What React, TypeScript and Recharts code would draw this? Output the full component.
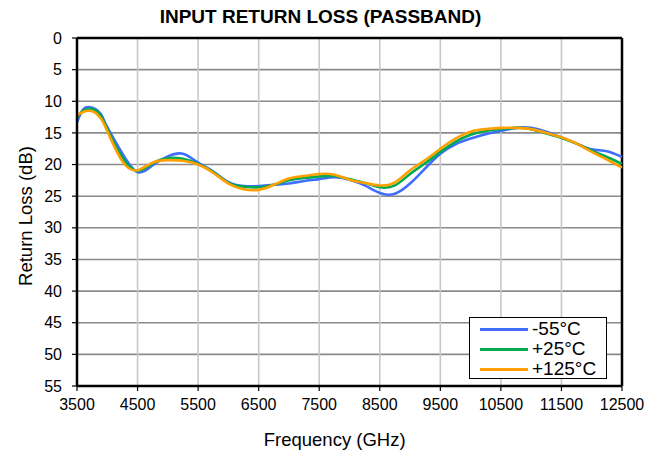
import React from 'react';
import { LineChart, Line, XAxis, YAxis, CartesianGrid, Legend, ReferenceLine } from 'recharts';

const freqs = [3500, 3600, 3700, 3800, 3900, 4000, 4250, 4500, 4750, 5000, 5250, 5500, 5750, 6000, 6250, 6500, 6750, 7000, 7250, 7500, 7750, 8000, 8250, 8500, 8750, 9000, 9250, 9500, 9750, 10000, 10250, 10500, 10750, 11000, 11250, 11500, 11750, 12000, 12250, 12500];

const m55 = [13.3, 11.3, 10.9, 11.2, 12.1, 14.1, 18.3, 21.2, 20.1, 18.7, 18.3, 19.7, 21.1, 22.8, 23.4, 23.4, 23.2, 23.0, 22.6, 22.3, 22.0, 22.4, 23.3, 24.5, 24.6, 23.0, 20.6, 18.3, 16.8, 15.9, 15.2, 14.7, 14.2, 14.2, 14.8, 15.7, 16.7, 17.6, 17.9, 18.8];
const p25 = [12.6, 11.5, 11.2, 11.4, 12.4, 14.4, 18.9, 21.0, 19.8, 19.0, 19.1, 19.9, 21.2, 22.9, 23.5, 23.6, 23.2, 22.5, 22.1, 21.9, 21.8, 22.3, 22.9, 23.6, 23.3, 21.5, 19.8, 18.0, 16.4, 15.3, 14.7, 14.4, 14.2, 14.4, 15.1, 15.8, 16.7, 17.8, 18.8, 19.9];
const p125 = [12.2, 11.7, 11.5, 11.8, 12.8, 14.7, 19.5, 20.9, 19.7, 19.3, 19.4, 20.0, 21.3, 23.0, 23.9, 24.0, 23.2, 22.2, 21.8, 21.5, 21.6, 22.4, 22.9, 23.3, 22.8, 20.9, 19.3, 17.5, 15.9, 14.8, 14.4, 14.2, 14.2, 14.4, 15.0, 15.7, 16.7, 18.0, 19.2, 20.5];

const seriesNames = ['-55°C', '+25°C', '+125°C'];
const seriesColors = ['#3F6DFF', '#00AA4F', '#FFA000'];
const seriesKeys = ['m55', 'p25', 'p125'];

const xTicks = [3500, 4500, 5500, 6500, 7500, 8500, 9500, 10500, 11500, 12500];
const yTicks = [0, 5, 10, 15, 20, 25, 30, 35, 40, 45, 50, 55];

const title = 'INPUT RETURN LOSS (PASSBAND)';
const xTitle = 'Frequency (GHz)';
const yTitle = 'Return Loss (dB)';

const data = freqs.map((f, i) => ({ f, m55: m55[i], p25: p25[i], p125: p125[i] }));

const FONT = '"Liberation Sans", Arial, sans-serif';

const renderLegend = (props: any) => {
  const payload = [...(props.payload || [])].sort(
    (a: any, b: any) => seriesNames.indexOf(a.value) - seriesNames.indexOf(b.value)
  );
  return (
    <div style={{ border: '1.5px solid #000', background: '#fff', width: 136, height: 59, boxSizing: 'content-box', fontFamily: FONT, fontSize: 19, color: '#000', paddingTop: 1 }}>
      {payload.map((e: any, i: number) => (
        <div key={i} style={{ display: 'flex', alignItems: 'center', height: 20, lineHeight: '20px' }}>
          <span style={{ display: 'inline-block', width: 48, height: 3, background: e.color, marginLeft: 10, marginRight: 4 }} />
          <span>{e.value}</span>
        </div>
      ))}
    </div>
  );
};

export default function App() {
  return (
    <div style={{ position: 'absolute', left: 0, top: 0, width: 660, height: 452, background: '#fff' }}>
      <LineChart width={660} height={452} data={data} margin={{ top: 38, right: 38, bottom: 36, left: 27 }}>
        <CartesianGrid horizontal={true} vertical={false} stroke="#8a8a8a" strokeWidth={1.6} />
        <CartesianGrid horizontal={false} vertical={true} stroke="#c8c8c8" strokeWidth={1.6} />
        <XAxis
          dataKey="f"
          type="number"
          domain={[3500, 12500]}
          ticks={xTicks}
          interval={0}
          height={30}
          axisLine={{ stroke: '#000', strokeWidth: 2.5 }}
          tickLine={{ stroke: '#000', strokeWidth: 1.2 }}
          tickSize={5}
          tickMargin={8}
          tick={{ fill: '#000', fontSize: 16, fontFamily: FONT }}
        />
        <YAxis
          type="number"
          reversed={true}
          domain={[0, 55]}
          ticks={yTicks}
          interval={0}
          width={50}
          axisLine={{ stroke: '#000', strokeWidth: 2.5 }}
          tickLine={{ stroke: '#000', strokeWidth: 1.2 }}
          tickSize={5}
          tickMargin={10}
          tick={{ fill: '#000', fontSize: 16, fontFamily: FONT }}
        />
        <ReferenceLine y={0} stroke="#000" strokeWidth={2.5} />
        <ReferenceLine x={12500} stroke="#000" strokeWidth={2.5} />
        {seriesKeys.map((k, i) => (
          <Line key={k} type="natural" dataKey={k} name={seriesNames[i]} stroke={seriesColors[i]} strokeWidth={2.6} dot={false} activeDot={false} isAnimationActive={false} />
        ))}
        <Legend
          layout="vertical"
          align="center"
          verticalAlign="middle"
          content={renderLegend}
          wrapperStyle={{ left: 469, top: 317, width: 140, height: 62 }}
        />
      </LineChart>
      <svg width={660} height={452} style={{ position: 'absolute', left: 0, top: 0, pointerEvents: 'none' }}>
        <text x={320.5} y={22.7} textAnchor="middle" fontFamily={FONT} fontWeight="bold" fontSize={19} fill="#000">{title}</text>
        <text x={334.7} y={446} textAnchor="middle" fontFamily={FONT} fontSize={18.5} fill="#000">{xTitle}</text>
        <text transform="translate(31.5,216) rotate(-90)" textAnchor="middle" fontFamily={FONT} fontSize={18.5} fill="#000">{yTitle}</text>
      </svg>
    </div>
  );
}
